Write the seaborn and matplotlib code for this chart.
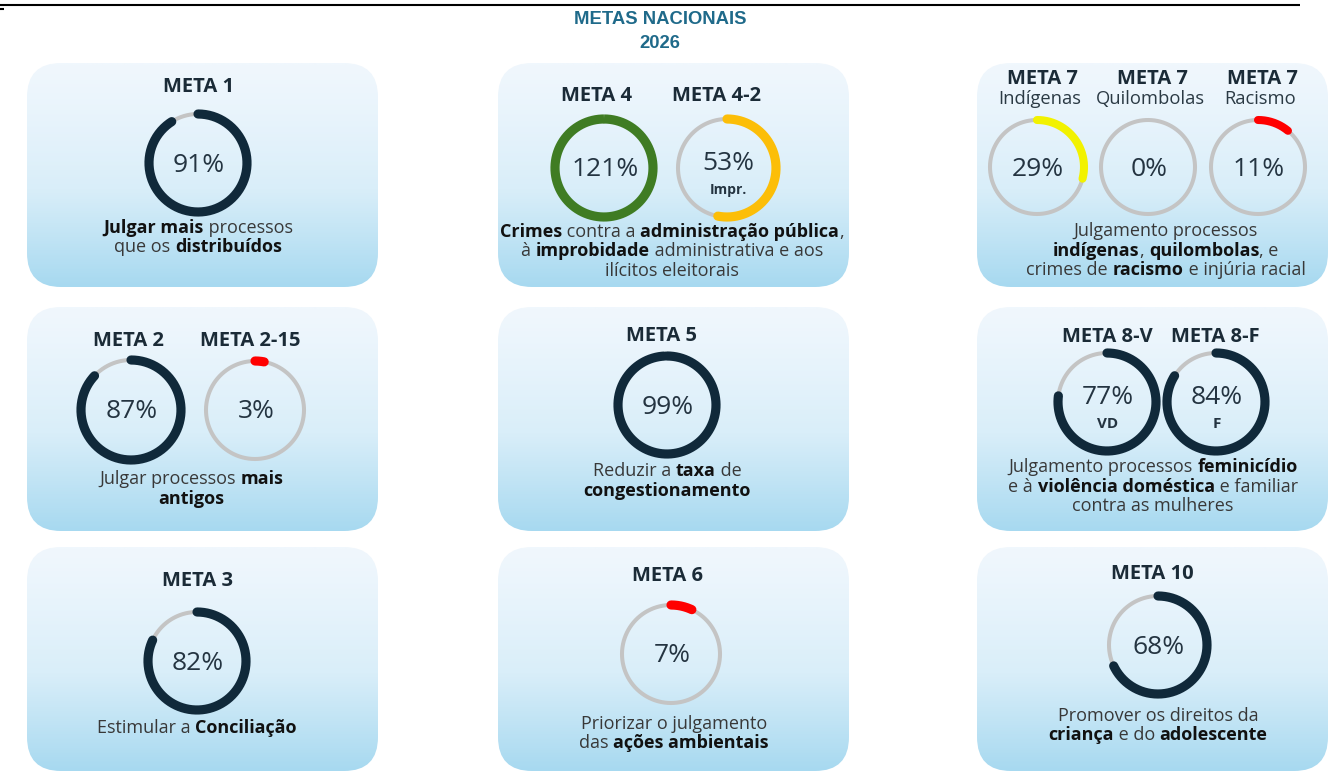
import numpy as np
import matplotlib.pyplot as plt
import seaborn as sns
from matplotlib.patches import FancyBboxPatch
from matplotlib.colors import LinearSegmentedColormap

# ---- data ----
page_title = "METAS NACIONAIS"
page_year = "2026"

gauge_titles = ["META 1", "META 4", "META 4-2", "META 7", "META 7", "META 7",
                "META 2", "META 2-15", "META 5", "META 8-V", "META 8-F",
                "META 3", "META 6", "META 10"]
gauge_values = [91, 121, 53, 29, 0, 11, 87, 3, 99, 77, 84, 82, 7, 68]
gauge_subtitles = ["", "", "", "Indígenas", "Quilombolas", "Racismo",
                   "", "", "", "", "", "", "", ""]
gauge_inner = ["", "", "Impr.", "", "", "", "", "", "", "VD", "F", "", "", ""]

# card descriptions, row by row (text between ** is bold)
card_texts = [
    ["**Julgar mais** processos", "que os **distribuídos**"],
    ["**Crimes** contra a **administração pública**,",
     "à **improbidade** administrativa e aos", "ilícitos eleitorais"],
    ["Julgamento processos", "**indígenas**, **quilombolas**, e",
     "crimes de **racismo** e injúria racial"],
    ["Julgar processos **mais**", "**antigos**"],
    ["Reduzir a **taxa** de", "**congestionamento**"],
    ["Julgamento processos **feminicídio**",
     "e à **violência doméstica** e familiar", "contra as mulheres"],
    ["Estimular a **Conciliação**"],
    ["Priorizar o julgamento", "das **ações ambientais**"],
    ["Promover os direitos da", "**criança** e do **adolescente**"],
]

# ---- layout / style ----
NAVY = "#10293a"
gauge_colors = [NAVY, "#3f7c23", "#fcbe08", "#f2f200", NAVY, "#ff0000",
                NAVY, "#ff0000", NAVY, NAVY, NAVY, NAVY, "#ff0000", NAVY]
gauge_centers = [(198, 163), (604, 168), (727, 168), (1037, 167), (1148, 167),
                 (1258, 167), (131, 410), (255, 410), (667, 405), (1107, 402),
                 (1216, 402), (197, 661), (671, 654), (1158, 645)]
gauge_radius = [49, 49, 49, 47, 47, 47, 50, 49, 49, 49, 49, 49, 49, 49]
title_pos = [(199, 87), (597, 96), (717, 96), (1042, 79), (1152, 79), (1262, 79),
             (128, 341), (250, 341), (661, 336), (1107, 337), (1215, 337),
             (197, 581), (667, 576), (1152, 574)]
text_pos = [(198, 228), (672, 232), (1166, 231), (191, 479), (667, 471),
            (1153, 467), (197, 728), (674, 724), (1158, 716)]
card_x = [27, 498, 977]
card_y = [63, 307, 547]
CARD_W, CARD_H = 351, 224

sns.set_theme(style="white")
plt.rcParams["font.family"] = ["Open Sans", "DejaVu Sans"]

fig = plt.figure(figsize=(13.38, 7.74), dpi=100)
ax = fig.add_axes([0, 0, 1, 1])
ax.set_xlim(0, 1338)
ax.set_ylim(774, 0)
ax.axis("off")
renderer = fig.canvas.get_renderer()

# header
ax.plot([0, 1300], [5, 5], color="black", lw=1.5, solid_capstyle="butt")
ax.plot([0, 4], [9, 9], color="black", lw=1.5, solid_capstyle="butt")
for txt, ty in [(page_title, 19), (page_year, 43)]:
    ax.text(660, ty, txt, ha="center", va="center", fontsize=13.3,
            fontweight="bold", color="#1f6a8a",
            family=["Liberation Sans", "DejaVu Sans"])

# cards with vertical gradient
cmap = LinearSegmentedColormap.from_list("card", ["#f0f7fd", "#d9eef9", "#a7d9f0"])
grad = np.linspace(0, 1, 256).reshape(-1, 1) ** 1.2
for cy in card_y:
    for cx in card_x:
        box = FancyBboxPatch((cx, cy), CARD_W, CARD_H,
                             boxstyle="round,pad=0,rounding_size=34",
                             facecolor="none", edgecolor="none")
        ax.add_patch(box)
        im = ax.imshow(grad, cmap=cmap, extent=(cx, cx + CARD_W, cy + CARD_H, cy),
                       origin="upper", aspect="auto", zorder=1)
        im.set_clip_path(box)

# gauges
for i, val in enumerate(gauge_values):
    cx, cy = gauge_centers[i]
    r = gauge_radius[i]
    th = np.linspace(0, 2 * np.pi, 300)
    ax.plot(cx + r * np.cos(th), cy + r * np.sin(th), color="#c4c4c4",
            lw=2.9, zorder=3)
    if val > 0:
        frac = min(val, 100) / 100
        th = -np.pi / 2 + np.linspace(0, 2 * np.pi * frac, 300)
        lw = 5.8 if i in (3, 4, 5) else 6.6
        cap = "butt" if frac >= 1 else "round"
        ax.plot(cx + r * np.cos(th), cy + r * np.sin(th), color=gauge_colors[i],
                lw=lw, solid_capstyle=cap, zorder=4)
    dy = -5 if gauge_inner[i] else 2
    ax.text(cx + 1, cy + dy, f"{val}%", ha="center", va="center", fontsize=19,
            color="#243441", zorder=5)
    if gauge_inner[i]:
        isz = 10 if gauge_inner[i] == "Impr." else 11
        ax.text(cx + 1, cy + 22, gauge_inner[i], ha="center", va="center",
                fontsize=isz, fontweight="bold", color="#243441", zorder=5)
    tx, ty = title_pos[i]
    ax.text(tx, ty, gauge_titles[i], ha="center", va="center", fontsize=14.5,
            fontweight="bold", color="#1b2b37", zorder=5)
    if gauge_subtitles[i]:
        ax.text(tx - 2, ty + 20, gauge_subtitles[i], ha="center", va="center",
                fontsize=13.2, color="#2b3a44", zorder=5)


def seg_width(s, bold, size):
    w = "bold" if bold else "normal"
    t1 = ax.text(0, 0, s + "|", fontsize=size, fontweight=w)
    t2 = ax.text(0, 0, "|", fontsize=size, fontweight=w)
    width = t1.get_window_extent(renderer).width - t2.get_window_extent(renderer).width
    t1.remove()
    t2.remove()
    return width


def rich_line(xc, y, line, size=13):
    parts = line.split("**")
    segs = [(p, k % 2 == 1) for k, p in enumerate(parts) if p]
    widths = [seg_width(p, b, size) for p, b in segs]
    x = xc - sum(widths) / 2
    for (p, b), w in zip(segs, widths):
        ax.text(x, y, p, ha="left", va="center", fontsize=size,
                fontweight="bold" if b else "normal",
                color="#111111" if b else "#383838", zorder=5)
        x += w


for k, lines in enumerate(card_texts):
    xc, y0 = text_pos[k]
    for j, line in enumerate(lines):
        rich_line(xc, y0 + j * 19.5, line)

plt.savefig("out.png", dpi=100)
